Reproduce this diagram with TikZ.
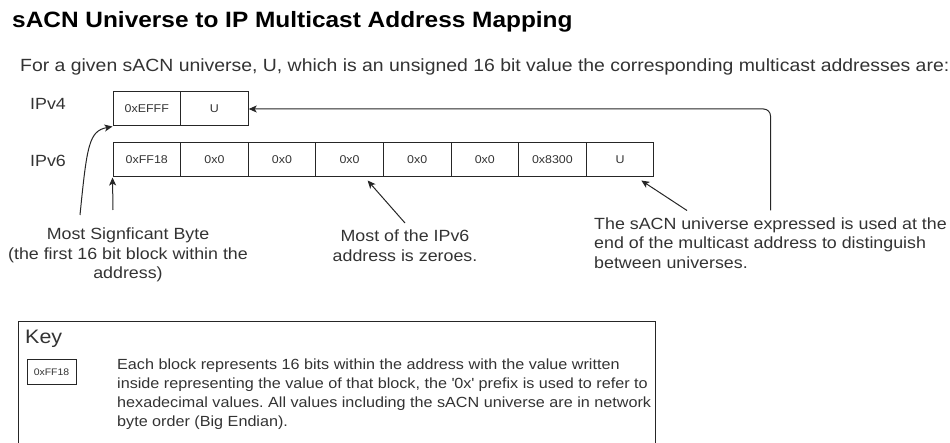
\documentclass[tikz,border=0pt]{standalone}
\usepackage{fontspec}
\setmainfont{Liberation Sans}[FakeStretch=1.1]
\usepackage{tikz}
\usetikzlibrary{arrows.meta}
\frenchspacing

\begin{document}
\begin{tikzpicture}[x=1pt,y=-1pt,>={Stealth[length=8pt,width=7pt,inset=2pt]}]
    \tikzstyle{every node}=[text=black!80]
    \tikzstyle{block}=[draw=black!85, line width=1pt, minimum width=67.6pt, minimum height=34pt, inner sep=0pt, font=\fontsize{11.3}{13}\selectfont]
    \tikzstyle{rowname}=[anchor=base west, inner sep=0pt, font=\fontsize{16.2}{19.5}\selectfont]
    \tikzstyle{annot}=[align=center, inner xsep=0pt, inner ysep=7pt, font=\fontsize{16.2}{19.5}\selectfont]
    \tikzstyle{pointer}=[->, draw=black!85, line width=1pt]

    \useasboundingbox (0,0) rectangle (950,443);

    % Title and intro line
    \node[anchor=base west, inner sep=0pt, text=black, font=\bfseries\fontsize{22.2}{27}\selectfont] (title) at (12,28) {sACN Universe to IP Multicast Address Mapping};
    \node[anchor=base west, inner sep=0pt, font=\fontsize{17.65}{20}\selectfont] (intro) at (20,72) {For a given sACN universe, U, which is an unsigned 16 bit value the corresponding multicast addresses are:};

    % Row names
    \node[rowname] (n4) at (30,110) {IPv4};
    \node[rowname] (n6) at (30,167) {IPv6};

    % Draw the IPv4 blocks
    \foreach \name / \val in {1/0xEFFF,2/U}
        \node[block] (v4-\name) at ({146.8+67.6*(\name-1)},109) {\val};

    % Draw the IPv6 blocks
    \foreach \val [count=\name] in {0xFF18,0x0,0x0,0x0,0x0,0x0,0x8300,U}
        \node[block] (v6-\name) at ({146.8+67.6*(\name-1)},160) {\val};

    % Annotate the addresses
    \node[annot, anchor=north] (msb) at (128,221) {Most Signficant Byte\\(the first 16 bit block within the\\address)};
    \node[annot, anchor=north] (zeroes) at (405,223) {Most of the IPv6\\address is zeroes.};
    \node[annot, align=left, anchor=north west] (univ) at (594,210.5) {The sACN universe expressed is used at the\\end of the multicast address to distinguish\\between universes.};

    % Connect the annotations with the blocks
    \coordinate (msb-a) at (113,210);
    \coordinate (msb-b) at (80,215);
    \draw[pointer] (msb-a) -- (v6-1.south west);
    \draw[pointer] (msb-b) .. controls (87,145) and (89,131) .. (v4-1.south west);
    \draw[pointer] (zeroes.north) -- ([xshift=18pt,yshift=-3pt]v6-4.south);
    \draw[pointer] ([xshift=93pt]univ.north west) -- ([xshift=-13pt,yshift=-3pt]v6-8.south east);
    \draw[pointer, rounded corners=7pt] (univ.north) |- (v4-2.east);

    % Key
    \node[draw=black!85, line width=1pt, anchor=north west, minimum width=637pt, minimum height=150pt, inner sep=0pt] (key) at (18,321) {};
    \node[anchor=base west, inner sep=0pt, font=\fontsize{19.5}{23}\selectfont] (keytitle) at (25,344) {Key};
    \node[block, minimum width=49pt, minimum height=24pt, font=\fontsize{9.5}{11}\selectfont] (keyblock) at (51.5,372) {0xFF18};
    \node[anchor=north west, inner sep=0pt, align=left, font=\fontsize{14.7}{19}\selectfont] (keytext) at (117,358.5) {Each block represents 16 bits within the address with the value written\\inside representing the value of that block, the \textquotesingle 0x\textquotesingle\ prefix is used to refer to\\hexadecimal values. All values including the sACN universe are in network\\byte order (Big Endian).};
\end{tikzpicture}
\end{document}
